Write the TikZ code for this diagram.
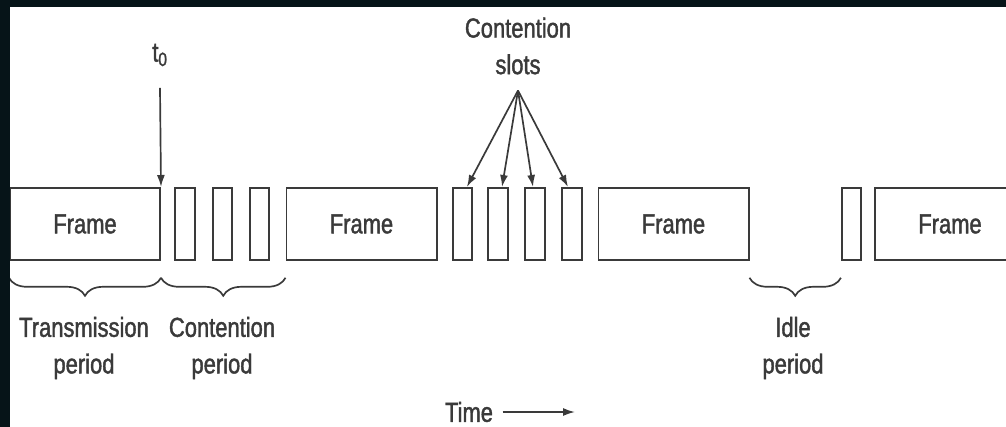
\documentclass[tikz,border=0pt]{standalone}
\usepackage{fontspec}
\setmainfont{Liberation Sans}[FakeStretch=0.8, UprightFeatures={FakeBold=1.5}]
\usetikzlibrary{arrows.meta, decorations.pathreplacing, positioning}
\definecolor{ink}{HTML}{3a3a3a}
\definecolor{edge}{HTML}{061418}
\newcommand{\period}[2]
{
	\draw[pbrace] ([yshift=-0.42cm]#1) -- ([yshift=-0.42cm]#2)
}

\begin{document}
\begin{tikzpicture}[x=0.025cm, y=-0.025cm,
	every node/.append style={text=ink,
		font=\fontsize{19.5}{26}\selectfont},
	frame/.style={draw=ink, line width=1.4pt,
		minimum width=3.75cm, minimum height=1.8cm},
	slot/.style={draw=ink, line width=1.4pt,
		minimum width=0.48cm, minimum height=1.8cm},
	pbrace/.style={draw=ink, line width=1.2pt, decorate,
		decoration={brace, mirror, amplitude=0.45cm}},
	arr/.style={draw=ink, line width=1.2pt,
		-{Latex[length=0.3cm, width=0.2cm]}}]

	\useasboundingbox (0,0) rectangle (1006,427);

	% time line
	\node[frame] at (85, 224) (F1){Frame};
	\node[slot] at (185, 224) (c1){};
	\node[slot] at (222.5, 224) (c2){};
	\node[slot] at (259.5, 224) (c3){};
	\node[frame] at (361.5, 224) (F2){Frame};
	\node[slot] at (462.5, 224) (s1){};
	\node[slot] at (498, 224) (s2){};
	\node[slot] at (535, 224) (s3){};
	\node[slot] at (572, 224) (s4){};
	\node[frame] at (673.5, 224) (F3){Frame};
	\node[slot] at (851.5, 224) (i1){};
	\node[frame] at (950, 224) (F4){Frame};

	% t0 marker
	\node at (160, 55) (t0){t\textsubscript{0}};
	\draw[arr] ([yshift=-0.42cm]t0.south) -- (F1.north east);

	% contention slots
	\node[align=center] at (518, 46) (cs){Contention\\slots};
	\draw[arr] ([yshift=-0.28cm]cs.south) -- ([xshift=0.11cm]s1.north);
	\draw[arr] ([yshift=-0.28cm]cs.south) -- ([xshift=0.1cm]s2.north);
	\draw[arr] ([yshift=-0.28cm]cs.south) -- ([xshift=-0.05cm]s3.north);
	\draw[arr] ([yshift=-0.28cm]cs.south) -- ([xshift=-0.1cm]s4.north);

	% periods
	\period{F1.south west}{F1.south east};
	\period{F1.south east}{F2.south west};
	\period{F3.south east}{i1.south west};
	\node[align=center] at (84, 348) (tp){Transmission\\period};
	\node[align=center] at (222, 348) (cp){Contention\\period};
	\node[align=center] at (793, 348) (ip){Idle\\period};

	% time axis
	\node at (469, 412) (time){Time};
	\coordinate (tend) at (575, 412);
	\draw[arr] ([xshift=0.12cm]time.east) -- (tend);

	% dark edge
	\fill[edge] (0,0) rectangle (1006,7);
	\fill[edge] (0,0) rectangle (10,427);
\end{tikzpicture}
\end{document}
